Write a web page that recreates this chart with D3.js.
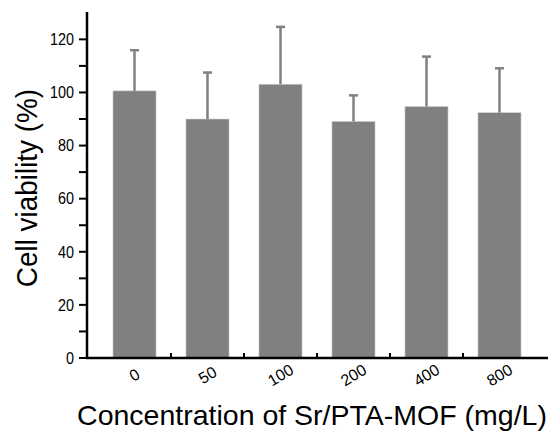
<!DOCTYPE html>
<meta charset="utf-8">
<style>
  body { margin: 0; background: #fff; }
  text { font-family: "Liberation Sans", Arial, sans-serif; fill: #000; }
</style>
<script src="https://cdn.jsdelivr.net/npm/d3@7"></script>
<body>
<svg id="chart" width="551" height="431"></svg>
<script>
  // values
  var concentrations = ["0", "50", "100", "200", "400", "800"];
  var viability = [100.6, 90.0, 103.1, 89.1, 94.7, 92.4];
  var errUpper = [115.9, 107.5, 124.7, 98.9, 113.5, 109.1];
  var yTicks = [0, 20, 40, 60, 80, 100, 120];
  var yMinor = [10, 30, 50, 70, 90, 110];

  var svg = d3.select("#chart");
  var x0 = 87, yBase = 358;

  var x = d3.scaleBand()
      .domain(concentrations)
      .range([98, 536])
      .paddingInner(0.41)
      .paddingOuter(0.205);
  var y = d3.scaleLinear().domain([0, 130.3]).range([yBase, 12]);

  // bars
  svg.selectAll(".bar")
    .data(viability)
    .enter().append("rect")
      .attr("class", "bar")
      .attr("x", function(d, i){ return x(concentrations[i]); })
      .attr("y", function(d){ return y(d); })
      .attr("width", x.bandwidth())
      .attr("height", function(d){ return yBase - y(d); })
      .attr("fill", "#808080")
      .attr("stroke", "#d0d0d0")
      .attr("stroke-width", 0.6);

  // error bars (upper only)
  var eb = svg.selectAll(".err")
    .data(errUpper)
    .enter().append("g").attr("class", "err");
  eb.append("line")
    .attr("x1", function(d, i){ return x(concentrations[i]) + x.bandwidth()/2; })
    .attr("x2", function(d, i){ return x(concentrations[i]) + x.bandwidth()/2; })
    .attr("y1", function(d, i){ return y(viability[i]); })
    .attr("y2", function(d){ return y(d); })
    .attr("stroke", "#808080").attr("stroke-width", 2.5);
  eb.append("line")
    .attr("x1", function(d, i){ return x(concentrations[i]) + x.bandwidth()/2 - 4.5; })
    .attr("x2", function(d, i){ return x(concentrations[i]) + x.bandwidth()/2 + 4.5; })
    .attr("y1", function(d){ return y(d); })
    .attr("y2", function(d){ return y(d); })
    .attr("stroke", "#808080").attr("stroke-width", 2.5);

  // y axis
  var yAxis = svg.append("g").attr("transform", "translate(" + x0 + ",0)");
  yAxis.append("line")
    .attr("x1", 0).attr("x2", 0).attr("y1", y(130.3)).attr("y2", yBase + 1)
    .attr("stroke", "#000").attr("stroke-width", 2.5);
  yAxis.selectAll(".yt")
    .data(yTicks.concat(yMinor))
    .enter().append("line")
      .attr("x1", -8).attr("x2", 0)
      .attr("y1", function(d){ return y(d); })
      .attr("y2", function(d){ return y(d); })
      .attr("stroke", "#000").attr("stroke-width", 2);
  yAxis.selectAll(".yl")
    .data(yTicks)
    .enter().append("text")
      .attr("transform", function(d){ return "translate(-13," + y(d) + ") scale(0.9,1)"; })
      .attr("dy", "0.36em")
      .attr("text-anchor", "end")
      .style("font-size", "16px")
      .text(function(d){ return d; });

  // x axis
  var xAxis = svg.append("g");
  xAxis.append("line")
    .attr("x1", x0 - 1).attr("x2", 548).attr("y1", yBase).attr("y2", yBase)
    .attr("stroke", "#000").attr("stroke-width", 2.5);
  var step = x.step();
  xAxis.selectAll(".xt")
    .data(concentrations.slice(0, -1))
    .enter().append("line")
      .attr("x1", function(d){ return x(d) + x.bandwidth()/2 + step/2; })
      .attr("x2", function(d){ return x(d) + x.bandwidth()/2 + step/2; })
      .attr("y1", yBase).attr("y2", yBase - 5)
      .attr("stroke", "#000").attr("stroke-width", 2);
  xAxis.selectAll(".xl")
    .data(concentrations)
    .enter().append("text")
      .attr("transform", function(d){
        return "translate(" + (x(d) + x.bandwidth()/2) + "," + (yBase + 17) + ") rotate(-31)";
      })
      .attr("text-anchor", "middle")
      .attr("dy", "0.35em")
      .style("font-size", "16px")
      .text(function(d){ return d; });

  // axis titles
  svg.append("text")
    .attr("x", 312).attr("y", 425)
    .attr("text-anchor", "middle")
    .style("font-size", "28.5px")
    .text("Concentration of Sr/PTA-MOF (mg/L)");
  svg.append("text")
    .attr("transform", "translate(37,188) rotate(-90) scale(0.93,1)")
    .attr("text-anchor", "middle")
    .style("font-size", "30px")
    .text("Cell viability (%)");
</script>
</body>
